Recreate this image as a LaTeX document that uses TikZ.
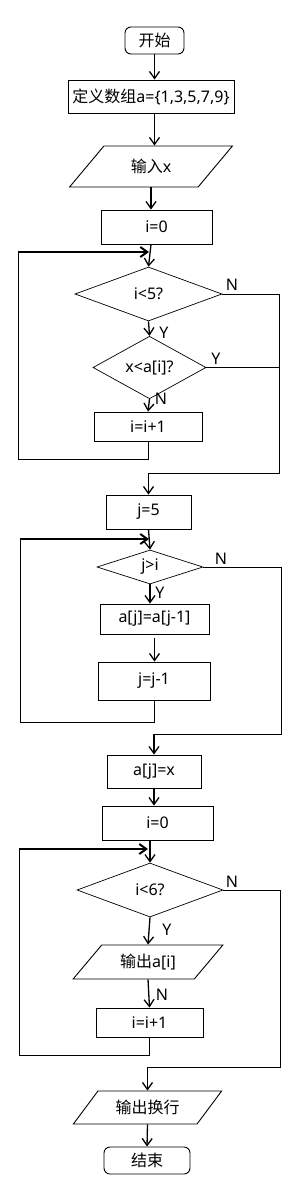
\documentclass[tikz,border=0pt]{standalone}
\usepackage{fontspec}
\setmainfont{Noto Sans}
\newfontfamily\cjk{Noto Sans CJK SC}
\usetikzlibrary{shapes.geometric,arrows.meta}
\begin{document}
\begin{tikzpicture}[x=1pt,y=-1pt,
  font=\fontsize{16}{19}\selectfont,
  every node/.style={inner sep=0pt},
  box/.style={draw,line width=0.9pt,rectangle},
  term/.style={draw,line width=0.9pt,rectangle,rounded corners=6pt},
  dia/.style={draw,line width=0.7pt,diamond},
  para/.style={draw,line width=0.9pt,trapezium,trapezium stretches=true},
  line/.style={draw,line width=0.9pt,line join=miter},
  arr/.style={draw,line width=1.3pt,-{Straight Barb[length=7pt,width=10pt]}},
  backarr/.style={draw,line width=2pt,shorten >=2pt,-{Straight Barb[length=7pt,width=10pt]}},
  lbl/.style={font=\fontsize{16}{19}\selectfont}
]
\fill[white] (0,0) rectangle (301,1193);
\useasboundingbox (0,0) rectangle (301,1193);

% nodes
\node[term,minimum width=59pt,minimum height=27pt] (start) at (154.5,40.5) {\cjk 开始};
\node[box,minimum width=166pt,minimum height=33pt] (def) at (151,96.5) {{\cjk 定义数组}a=\{1,3,5,7,9\}};
\node[para,trapezium left angle=45,trapezium right angle=135,minimum width=164pt,minimum height=41pt] (in) at (151,166.5) {{\cjk 输入}x\hspace{11pt}};
\node[box,minimum width=111pt,minimum height=34pt] (i0a) at (156.5,227) {i=0\hspace{12pt}};
\node[dia,minimum width=147pt,minimum height=54pt] (d1) at (148.5,294) {i<5?};
\node[dia,minimum width=113pt,minimum height=41pt] (d2) at (149.5,367.5) {x<a[i]?};
\node[box,minimum width=108pt,minimum height=29pt] (inc1) at (148,426.5) {i=i+1\hspace{12pt}};
\node[box,minimum width=85pt,minimum height=34pt] (j5) at (148.5,512) {j=5};
\node[dia,minimum width=106pt,minimum height=34pt] (d3) at (150,567) {j>i};
\node[box,minimum width=109pt,minimum height=30pt] (shift) at (154.5,619) {a[j]=a[j-1]\hspace{5pt}};
\node[box,minimum width=112pt,minimum height=38pt] (dec) at (154,681) {j=j-1\hspace{24pt}};
\node[box,minimum width=94pt,minimum height=33pt] (ajx) at (154,771.5) {a[j]=x\hspace{6pt}};
\node[box,minimum width=111pt,minimum height=34pt] (i0b) at (157.5,823) {i=0\hspace{12pt}};
\node[dia,minimum width=146pt,minimum height=54pt] (d4) at (150,890) {i<6?};
\node[para,trapezium left angle=43,trapezium right angle=137,minimum width=150pt,minimum height=34pt] (out) at (148,962) {{\cjk 输出}a[i]\hspace{4pt}};
\node[box,minimum width=107pt,minimum height=29pt] (inc2) at (149.5,1022.5) {i=i+1\hspace{14pt}};
\node[para,trapezium left angle=43,trapezium right angle=137,minimum width=149pt,minimum height=33pt] (outnl) at (147.5,1107.5) {{\cjk 输出换行}\hspace{11pt}};
\node[term,minimum width=86pt,minimum height=27pt] (end) at (147,1160.5) {{\cjk 结束}\hspace{6pt}};

% helper coordinates
\coordinate (m1) at (151,252);
\coordinate (L1) at (18,252);
\coordinate (B1) at (18,459);
\coordinate (R1) at (279,473);
\coordinate (m2) at (151,539);
\coordinate (L2) at (20,539);
\coordinate (B2) at (20,722);
\coordinate (R2) at (281,734);
\coordinate (m3) at (150,849);
\coordinate (L3) at (19,849);
\coordinate (B3) at (19,1055);
\coordinate (R3) at (280,1067);

% main flow
\draw[arr] (start.south) -- (start.south |- def.north);
\draw[arr] (def.south -| start.south) -- (in.north -| start.south);
\draw[arr] (in.south) -- (in.south |- i0a.north);
\draw[arr] (i0a.south -| in.south) -- (d1.north);
\draw[arr] (d1.south) -- (d2.north);
\draw[arr] (d2.south) -- (inc1.north);
\draw[line] (inc1.south) |- (B1) -- (L1);
\draw[backarr] (L1) -- (m1);
\draw[line] (d1.east) -| (R1) -- (R1 -| j5.north);
\draw[line] (d2.east) -- (d2.east -| R1);
\draw[arr] (R1 -| j5.north) -- (j5.north);

\draw[arr] (j5.south) -- (d3.north);
\draw[arr] (d3.south) -- (d3.south |- shift.north);
\draw[arr] ([yshift=-4pt]shift.south) -- (shift.south |- dec.north);
\draw[line] (dec.south) |- (B2) -- (L2);
\draw[backarr] (L2) -- (m2);
\draw[line] (d3.east) -| (R2) -- (R2 -| ajx.north);
\draw[arr] (R2 -| ajx.north) -- (ajx.north);

\draw[arr] (ajx.south) -- (ajx.south |- i0b.north);
\draw[arr] (d4.north |- i0b.south) -- (d4.north);
\draw[arr] (d4.south) -- (out.north);
\draw[arr] (out.south) -- (inc2.north);
\draw[line] (inc2.south) |- (B3) -- (L3);
\draw[backarr] (L3) -- (m3);
\draw[line] (d4.east) -| (R3) -- (R3 -| outnl.north);
\draw[arr] (R3 -| outnl.north) -- (outnl.north);
\draw[arr] (outnl.south) -- (end.north);

% labels
\node[lbl] (n1) at (232,285) {N};
\node[lbl] (y1) at (164,333) {Y};
\node[lbl] (y2) at (216,359) {Y};
\node[lbl] (n2) at (161,399) {N};
\node[lbl] (n3) at (221,559) {N};
\node[lbl] (y3) at (160,593) {Y};
\node[lbl] (n4) at (232,882) {N};
\node[lbl] (y4) at (167,930) {Y};
\node[lbl] (n5) at (162,995) {N};
\end{tikzpicture}
\end{document}
